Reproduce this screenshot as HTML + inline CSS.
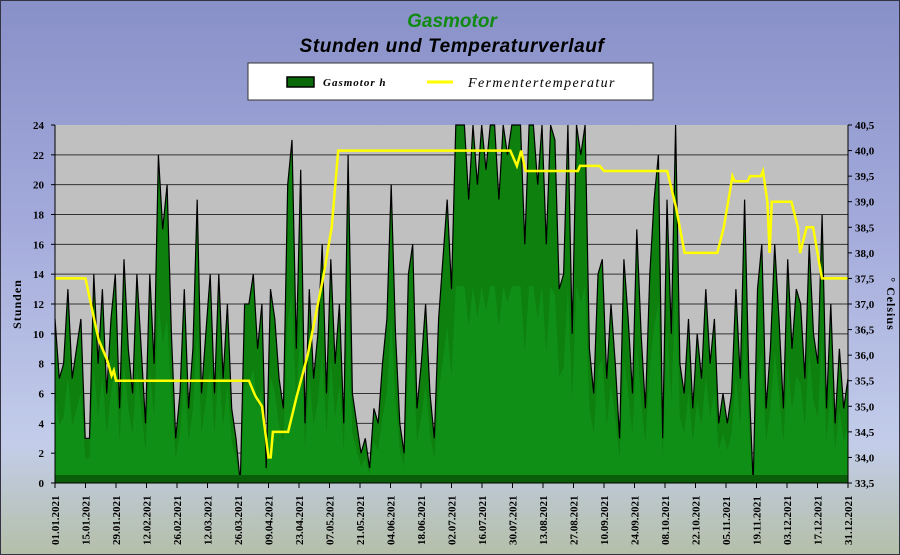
<!DOCTYPE html>
<html><head><meta charset="utf-8"><style>
html,body{margin:0;padding:0}
body{width:900px;height:555px;overflow:hidden;background:linear-gradient(180deg,#8890c8 0%,#a3aadb 40%,#c3cdea 80%,#b4bfa8 100%);font-family:"Liberation Serif",serif}
#frame{position:absolute;left:0;top:0;width:898px;height:553px;border:1px solid #334}
</style></head><body>
<div id="frame"></div>
<svg id="chart" width="900" height="555" style="position:absolute;left:0;top:0">
<text x="452" y="27" text-anchor="middle" font-family="Liberation Sans, sans-serif" font-style="italic" font-weight="bold" font-size="19" fill="#108a10">Gasmotor</text>
<text x="452" y="52" text-anchor="middle" font-family="Liberation Sans, sans-serif" font-style="italic" font-weight="bold" font-size="19" fill="#000" letter-spacing="0.6">Stunden und Temperaturverlauf</text>
<g>
<rect x="248" y="63" width="405" height="37" fill="#fff" stroke="#333" stroke-width="1"/>
<rect x="287" y="77" width="27" height="10" fill="#0a6a0a" stroke="#000" stroke-width="1.5"/>
<text x="323" y="86" font-style="italic" font-weight="bold" font-size="11" letter-spacing="1">Gasmotor h</text>
<line x1="427" y1="82" x2="453" y2="82" stroke="#ffff00" stroke-width="3"/>
<text x="468" y="87" font-style="italic" font-size="14" letter-spacing="1.4">Fermentertemperatur</text>
</g>
<rect x="55" y="125" width="793" height="358" fill="#c0c0c0"/>
<g id="grid"></g>
<g id="area"></g>
<g id="temp"></g>
<g id="axes"></g>
<text transform="translate(21,304) rotate(-90)" text-anchor="middle" font-weight="bold" font-size="12" letter-spacing="1">Stunden</text>
<text transform="translate(887,304) rotate(90)" text-anchor="middle" font-weight="bold" font-size="12" letter-spacing="1">° Celsius</text>
</svg>
<script>
const hours = [11,7,8,13,7,9,11,3,3,14,8,13,6,11,14,5,
15,9,6,14,9,4,14,8,22,17,20,10,3,6,
13,5,9,19,6,10,14,6,14,7,12,5,3,0,12,
12,14,9,12,1,13,11,7,5,20,23,9,21,4,13,
7,10,16,6,15,8,12,4,22,6,4,2,3,1,5,4,
8,11,20,10,4,2,14,16,5,8,12,6,3,11,15,
19,13,24,24,24,19,24,20,24,21,24,24,19,24,22,24,
24,24,16,24,24,20,24,16,24,23,13,14,24,10,24,22,
24,9,6,14,15,7,12,8,3,15,11,6,17,10,5,
14,19,22,3,19,10,24,8,6,11,5,10,7,13,8,11,
4,6,4,6,13,7,19,7,0,13,16,5,9,16,11,
5,15,9,13,12,7,16,10,8,18,5,12,4,9,5,7];
const tempDays = [0,14,17,20,24,26,27,28,89,92,95,98,99,100,107,111,116,123,127,130,209,212,214,216,240,241,250,252,281,285,289,304,307,311,312,318,319,324,325,327,328,329,338,341,342,345,348,350,352,364];
const tempVals = [37.5,37.5,36.9,36.3,35.9,35.6,35.7,35.5,35.5,35.2,35.0,34.0,34.0,34.5,34.5,35.2,36.0,37.5,38.5,40.0,40.0,39.7,40.0,39.6,39.6,39.7,39.7,39.6,39.6,38.9,38.0,38.0,38.5,39.5,39.4,39.4,39.5,39.5,39.6,39.0,38.0,39.0,39.0,38.5,38.0,38.5,38.5,38.0,37.5,37.5];
const dateLabels = ["01.01.2021","15.01.2021","29.01.2021","12.02.2021","26.02.2021","12.03.2021","26.03.2021","09.04.2021","23.04.2021","07.05.2021","21.05.2021","04.06.2021","18.06.2021","02.07.2021","16.07.2021","30.07.2021","13.08.2021","27.08.2021","10.09.2021","24.09.2021","08.10.2021","22.10.2021","05.11.2021","19.11.2021","03.12.2021","17.12.2021","31.12.2021"];
const leftTicks = [0,2,4,6,8,10,12,14,16,18,20,22,24];
const rightTicks = ["33,5","34,0","34,5","35,0","35,5","36,0","36,5","37,0","37,5","38,0","38,5","39,0","39,5","40,0","40,5"];

const X0=55,X1=848,Y0=483,Y1=125;
const xDay=d=>X0+d*(X1-X0)/364;
const yH=v=>Y0-v*(Y0-Y1)/24;
const yT=t=>Y0-(t-33.5)*(Y0-Y1)/7;
const NS="http://www.w3.org/2000/svg";
function mk(tag,parent,attrs){const e=document.createElementNS(NS,tag);for(const k in attrs)e.setAttribute(k,attrs[k]);parent.appendChild(e);return e;}
const grid=document.getElementById('grid'),area=document.getElementById('area'),temp=document.getElementById('temp'),axes=document.getElementById('axes');

leftTicks.forEach(v=>{
  if(v>0&&v<24){const l=mk('line',grid,{x1:X0,x2:X1,y1:yH(v),y2:yH(v),stroke:'#333','stroke-width':1});
  
  }
  const t=mk('text',axes,{x:44,y:yH(v)+4,'text-anchor':'end','font-weight':'bold','font-size':11});
  t.textContent=v;
  
  
  mk('line',axes,{x1:X0-4,x2:X0,y1:yH(v),y2:yH(v),stroke:'#000'});
});
rightTicks.forEach(s=>{
  const v=parseFloat(s.replace(',','.'));
  const t=mk('text',axes,{x:855,y:yT(v)+4,'font-weight':'bold','font-size':11});
  t.textContent=s;
  
  
  mk('line',axes,{x1:X1,x2:X1+4,y1:yT(v),y2:yT(v),stroke:'#000'});
});
dateLabels.forEach((s,i)=>{
  const x=xDay(i*14);
  mk('line',axes,{x1:x,x2:x,y1:Y0,y2:Y0+5,stroke:'#000'});
  const t=mk('text',axes,{transform:`translate(${x+4},${Y0+62}) rotate(-90)`,'font-weight':'bold','font-size':11});
  t.textContent=s;
  
  
});
mk('line',axes,{x1:X0,x2:X0,y1:Y1,y2:Y0,stroke:'#000'});
mk('line',axes,{x1:X1,x2:X1,y1:Y1,y2:Y0,stroke:'#000'});
mk('line',axes,{x1:X0,x2:X1,y1:Y0,y2:Y0,stroke:'#000'});

const n=hours.length;
const pts=hours.map((v,i)=>[xDay(i*364/(n-1)),yH(v)]);
let d=`M${X0},${Y0} `+pts.map(p=>`L${p[0].toFixed(1)},${p[1].toFixed(1)}`).join(' ')+` L${X1},${Y0} Z`;
const a=mk('path',area,{d:d,fill:'#0e800e'});


// lighter inner band
let d2=`M${X0},${Y0} `+pts.map((p,i)=>`L${p[0].toFixed(1)},${yH(hours[i]*0.55).toFixed(1)}`).join(' ')+` L${X1},${Y0} Z`;
const a2=mk('path',area,{d:d2,fill:'#12921a',opacity:0.8});


const ln=mk('path',area,{d:'M'+pts.map(p=>`${p[0].toFixed(1)},${p[1].toFixed(1)}`).join(' L'),fill:'none',stroke:'#000','stroke-width':1.2});


mk('rect',area,{x:X0,y:Y0-8,width:X1-X0,height:8,fill:'#0a5e0a'});

const tl=mk('polyline',temp,{points:tempDays.map((dd,i)=>`${xDay(dd).toFixed(1)},${yT(tempVals[i]).toFixed(1)}`).join(' '),fill:'none',stroke:'#ffff00','stroke-width':2.5});


</script>
</body></html>
